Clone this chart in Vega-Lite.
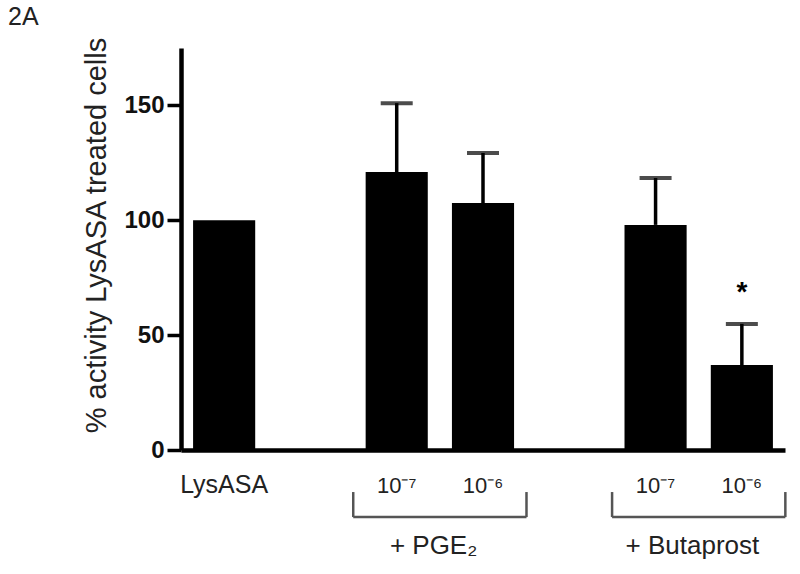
{
  "$schema": "https://vega.github.io/schema/vega-lite/v6.json",
  "width": 604,
  "height": 402,
  "autosize": "none",
  "padding": {"left": 181, "top": 48, "right": 15, "bottom": 124},
  "background": "white",
  "config": {"view": {"stroke": null}, "font": "Liberation Sans"},
  "title": {"text": "2A", "anchor": "start", "frame": "group", "dx": -173, "offset": 6, "fontSize": 25, "fontWeight": "normal", "color": "#222"},
  "datasets": {
    "bars": [
      {"cond": "LysASA", "value": 100, "upper": null},
      {"cond": "PGE-7", "value": 121, "upper": 151},
      {"cond": "PGE-6", "value": 107.5, "upper": 129.3},
      {"cond": "B-7", "value": 98, "upper": 118.4},
      {"cond": "B-6", "value": 37, "upper": 54.9}
    ],
    "brackets": [
      {"group": "+ PGE₂", "start": "PGE-7", "end": "PGE-6", "top": -18.3, "bottom": -29.2, "labelY": -41.8},
      {"group": "+ Butaprost", "start": "B-7", "end": "B-6", "top": -18.3, "bottom": -29.2, "labelY": -41.8}
    ],
    "stars": [{"cond": "B-6", "y": 71, "sig": "*"}]
  },
  "layer": [
    {
      "data": {"name": "bars"},
      "mark": {"type": "bar", "color": "#000"},
      "encoding": {
        "x": {
          "field": "cond", "type": "nominal", "title": null,
          "scale": {"domain": ["LysASA", "gap1", "PGE-7", "PGE-6", "gap2", "B-7", "B-6"], "paddingInner": 0.28, "paddingOuter": 0.14},
          "axis": {
            "ticks": false, "labelAngle": 0, "domainWidth": 4.5, "domainColor": "#000",
            "labelPadding": 42, "labelBaseline": "alphabetic", "labelColor": "#222",
            "labelFontSize": {"condition": {"test": "datum.value == 'LysASA'", "value": 25}, "value": 22},
            "labelExpr": "datum.value == 'LysASA' ? 'LysASA' : (datum.value == 'PGE-7' || datum.value == 'B-7') ? '10⁻⁷' : (datum.value == 'PGE-6' || datum.value == 'B-6') ? '10⁻⁶' : ''",
            "grid": false
          }
        },
        "y": {
          "field": "value", "type": "quantitative",
          "scale": {"domain": [0, 175], "nice": false},
          "axis": {
            "title": "% activity LysASA treated cells", "titleFontSize": 29, "titleFontWeight": "normal", "titleColor": "#222",
            "titlePadding": 12, "titleY": 187,
            "values": [0, 50, 100, 150], "labelFontSize": 24, "labelFontWeight": "bold", "labelColor": "#111",
            "tickSize": 14, "tickWidth": 3.5, "tickColor": "#000", "domainWidth": 4.5, "domainColor": "#000",
            "labelPadding": 3, "grid": false
          }
        }
      }
    },
    {
      "data": {"name": "bars"},
      "transform": [{"filter": "datum.upper != null"}],
      "mark": {"type": "rule", "color": "#000", "strokeWidth": 3.5},
      "encoding": {
        "x": {"field": "cond", "type": "nominal", "title": null, "scale": {"domain": ["LysASA", "gap1", "PGE-7", "PGE-6", "gap2", "B-7", "B-6"]}},
        "y": {"field": "value", "type": "quantitative"},
        "y2": {"field": "upper"}
      }
    },
    {
      "data": {"name": "bars"},
      "transform": [{"filter": "datum.upper != null"}],
      "mark": {"type": "tick", "color": "#000", "size": 32, "thickness": 4, "orient": "horizontal"},
      "encoding": {
        "x": {"field": "cond", "type": "nominal", "title": null, "scale": {"domain": ["LysASA", "gap1", "PGE-7", "PGE-6", "gap2", "B-7", "B-6"]}},
        "y": {"field": "upper", "type": "quantitative"}
      }
    },
    {
      "data": {"name": "stars"},
      "mark": {"type": "text", "fontSize": 28, "fontWeight": "bold", "baseline": "middle", "align": "center", "dy": 6, "color": "#000"},
      "encoding": {
        "x": {"field": "cond", "type": "nominal", "title": null, "scale": {"domain": ["LysASA", "gap1", "PGE-7", "PGE-6", "gap2", "B-7", "B-6"]}},
        "y": {"field": "y", "type": "quantitative"},
        "text": {"field": "sig"}
      }
    },
    {
      "data": {"name": "brackets"},
      "mark": {"type": "rule", "color": "#555", "strokeWidth": 2.5, "clip": false},
      "encoding": {
        "x": {"field": "start", "type": "nominal", "title": null, "bandPosition": -0.2, "scale": {"domain": ["LysASA", "gap1", "PGE-7", "PGE-6", "gap2", "B-7", "B-6"]}},
        "y": {"field": "top", "type": "quantitative"},
        "y2": {"field": "bottom"}
      }
    },
    {
      "data": {"name": "brackets"},
      "mark": {"type": "rule", "color": "#555", "strokeWidth": 2.5, "clip": false},
      "encoding": {
        "x": {"field": "end", "type": "nominal", "title": null, "bandPosition": 1.2, "scale": {"domain": ["LysASA", "gap1", "PGE-7", "PGE-6", "gap2", "B-7", "B-6"]}},
        "y": {"field": "top", "type": "quantitative"},
        "y2": {"field": "bottom"}
      }
    },
    {
      "data": {"name": "brackets"},
      "mark": {"type": "rule", "color": "#555", "strokeWidth": 2.5, "clip": false},
      "encoding": {
        "x": {"field": "start", "type": "nominal", "title": null, "bandPosition": -0.2, "scale": {"domain": ["LysASA", "gap1", "PGE-7", "PGE-6", "gap2", "B-7", "B-6"]}},
        "x2": {"field": "end", "bandPosition": 1.2},
        "y": {"field": "bottom", "type": "quantitative"}
      }
    },
    {
      "data": {"name": "brackets"},
      "mark": {"type": "text", "fontSize": 26, "baseline": "middle", "align": "center", "dx": -6, "color": "#222", "clip": false},
      "encoding": {
        "x": {"field": "start", "type": "nominal", "title": null, "bandPosition": 1.19, "scale": {"domain": ["LysASA", "gap1", "PGE-7", "PGE-6", "gap2", "B-7", "B-6"]}},
        "y": {"field": "labelY", "type": "quantitative"},
        "text": {"field": "group"}
      }
    }
  ]
}
